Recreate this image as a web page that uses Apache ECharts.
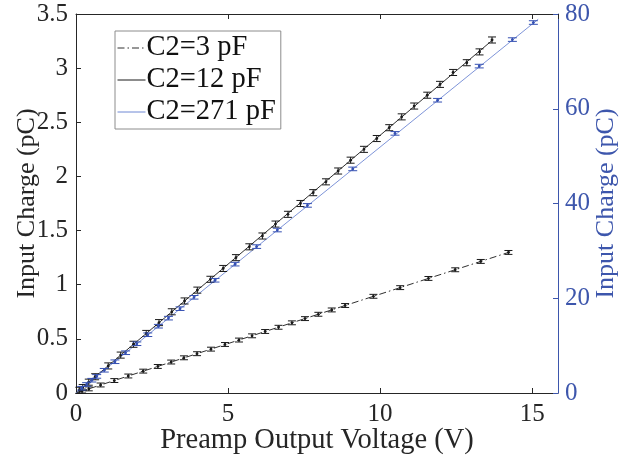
<!DOCTYPE html>
<html><head><meta charset="utf-8">
<script src="https://cdn.jsdelivr.net/npm/echarts@6/dist/echarts.min.js"></script>
<style>html,body{margin:0;padding:0;background:#fff}#c{width:623px;height:462px}</style>
</head><body><div id="c"></div>
<script>
// ---- data ----
const seriesNames = ['C2=3 pF', 'C2=12 pF', 'C2=271 pF'];

// C2 = 3 pF (left axis)
const v3 = [0.20,0.42,0.81,1.26,1.72,2.21,2.69,3.13,3.55,3.98,4.44,4.90,5.36,5.79,6.22,6.66,7.10,7.53,7.97,8.41,8.85,9.78,10.66,11.59,12.47,13.31,14.22];
const q3 = [0.018,0.038,0.074,0.115,0.157,0.202,0.245,0.286,0.325,0.363,0.405,0.448,0.489,0.528,0.568,0.607,0.648,0.687,0.727,0.767,0.808,0.893,0.973,1.058,1.138,1.215,1.298];
const err3 = 0.018;
const fit3V = [0, 14.35];
const fit3Q = [0, 1.31];

// C2 = 12 pF (left axis)
const v12 = [0.11,0.22,0.42,0.63,1.06,1.47,1.89,2.31,2.73,3.15,3.57,3.99,4.42,4.84,5.26,5.70,6.13,6.56,6.97,7.38,7.80,8.22,8.62,9.03,9.47,9.89,10.30,10.71,11.12,11.55,11.97,12.40,12.85,13.27,13.68];
const q12 = [0.025,0.05,0.10,0.15,0.25,0.35,0.45,0.55,0.65,0.75,0.85,0.95,1.05,1.15,1.25,1.35,1.45,1.56,1.65,1.75,1.85,1.95,2.05,2.15,2.25,2.35,2.45,2.55,2.65,2.75,2.85,2.96,3.05,3.15,3.26];
const err12 = 0.028;
const fit12V = [0, 13.72];
const fit12Q = [0, 3.265];

// C2 = 271 pF (right axis)
const v271 = [0.19,0.35,0.52,0.68,0.93,1.28,1.63,2.00,2.36,2.71,3.04,3.42,3.88,4.57,5.23,5.94,6.62,7.61,9.10,10.49,11.89,13.26,14.35,15.04];
const q271 = [1.0,1.8,2.7,3.5,4.8,6.6,8.5,10.4,12.3,14.1,15.8,17.8,20.2,23.8,27.2,30.9,34.4,39.6,47.3,54.8,61.8,69.0,74.6,78.2];
const err271 = 0.38;
const fit271V = [0, 15.2];
const fit271Q = [0, 78.9];

// ---- styling ----
const FONT = 'Liberation Serif';
const AX = '#262626';
const BLUE_AX = '#3d56ac';
const BLUE_LINE = '#6f88d4';
const BLUE_MK = '#3550b2';

function pairs(v, q) { return v.map((x, i) => [x, q[i]]); }
function triples(v, q, e) { return v.map((x, i) => [x, q[i], e]); }

function errRender(color, capW) {
  return function (params, api) {
    const x = api.value(0), y = api.value(1), e = api.value(2);
    const c = api.coord([x, y]);
    const lo = api.coord([x, y - e]);
    const hi = api.coord([x, y + e]);
    const st = { stroke: color, lineWidth: 1 };
    return {
      type: 'group',
      children: [
        { type: 'line', shape: { x1: c[0], y1: lo[1], x2: c[0], y2: hi[1] }, style: st },
        { type: 'line', shape: { x1: c[0] - capW, y1: lo[1], x2: c[0] + capW, y2: lo[1] }, style: st },
        { type: 'line', shape: { x1: c[0] - capW, y1: hi[1], x2: c[0] + capW, y2: hi[1] }, style: st },
        { type: 'circle', shape: { cx: c[0], cy: c[1], r: 1.4 }, style: { fill: color } }
      ]
    };
  };
}

const chart = echarts.init(document.getElementById('c'), null, { renderer: 'canvas' });
chart.setOption({
  animation: false,
  backgroundColor: '#fff',
  textStyle: { fontFamily: FONT },
  grid: { left: 76, right: 65, top: 14, bottom: 69, containLabel: false, outerBoundsMode: 'none' },
  legend: {
    data: seriesNames,
    orient: 'vertical',
    left: 115, top: 31,
    backgroundColor: '#fff',
    borderColor: '#8c8c8c', borderWidth: 1,
    padding: [2, 5, 2, 2],
    itemWidth: 28, itemHeight: 10, itemGap: 2,
    itemStyle: { opacity: 0 },
    lineStyle: { width: 1 },
    textStyle: { fontFamily: FONT, fontSize: 28.5, color: '#111', lineHeight: 30, padding: [0, 0, 0, -4] }
  },
  xAxis: [{
    type: 'value', min: 0, max: 15.85, interval: 5, position: 'bottom',
    name: 'Preamp Output Voltage (V)', nameLocation: 'middle', nameGap: 33, nameMoveOverlap: false,
    nameTextStyle: { fontFamily: FONT, fontSize: 28.5, color: AX },
    axisLine: { show: true, onZero: false, lineStyle: { color: AX, width: 1 } },
    axisTick: { show: true, inside: true, length: 5, lineStyle: { color: AX } },
    axisLabel: { fontFamily: FONT, fontSize: 25, color: AX, margin: 9 },
    splitLine: { show: false }
  }, {
    type: 'value', min: 0, max: 15.85, interval: 5, position: 'top',
    axisLine: { show: true, onZero: false, lineStyle: { color: AX, width: 1 } },
    axisTick: { show: true, inside: true, length: 5, lineStyle: { color: AX } },
    axisLabel: { show: false },
    splitLine: { show: false }
  }],
  yAxis: [{
    type: 'value', min: 0, max: 3.5, interval: 0.5, position: 'left',
    name: 'Input Charge (pC)', nameLocation: 'middle', nameGap: 36, nameRotate: 90, nameMoveOverlap: false,
    nameTextStyle: { fontFamily: FONT, fontSize: 26, color: AX },
    axisLine: { show: true, onZero: false, lineStyle: { color: AX, width: 1 } },
    axisTick: { show: true, inside: true, length: 5, lineStyle: { color: AX } },
    axisLabel: { fontFamily: FONT, fontSize: 25, color: AX, margin: 8 },
    splitLine: { show: false }
  }, {
    type: 'value', min: 0, max: 80, interval: 20, position: 'right',
    name: 'Input Charge (pC)', nameLocation: 'middle', nameGap: 35, nameRotate: 90, nameMoveOverlap: false,
    nameTextStyle: { fontFamily: FONT, fontSize: 26, color: BLUE_AX },
    axisLine: { show: true, onZero: false, lineStyle: { color: BLUE_AX, width: 1 } },
    axisTick: { show: true, inside: true, length: 5, lineStyle: { color: BLUE_AX } },
    axisLabel: { fontFamily: FONT, fontSize: 25, color: BLUE_AX, margin: 7 },
    splitLine: { show: false }
  }],
  series: [
    {
      name: seriesNames[0], type: 'line', xAxisIndex: 0, yAxisIndex: 0,
      data: pairs(fit3V, fit3Q), symbol: 'none', z: 2,
      lineStyle: { color: '#303030', width: 1, type: [7, 3, 1.5, 3] },
      itemStyle: { color: '#303030' }
    },
    {
      name: seriesNames[1], type: 'line', xAxisIndex: 0, yAxisIndex: 0,
      data: pairs(fit12V, fit12Q), symbol: 'none', z: 2,
      lineStyle: { color: '#1a1a1a', width: 0.9 },
      itemStyle: { color: '#1a1a1a' }
    },
    {
      name: seriesNames[2], type: 'line', xAxisIndex: 0, yAxisIndex: 1,
      data: pairs(fit271V, fit271Q), symbol: 'none', z: 2,
      lineStyle: { color: BLUE_LINE, width: 0.9 },
      itemStyle: { color: BLUE_LINE }
    },
    {
      name: 'err3', type: 'custom', xAxisIndex: 0, yAxisIndex: 0, z: 3,
      data: triples(v3, q3, err3), encode: { x: 0, y: 1 },
      renderItem: errRender('#1a1a1a', 4)
    },
    {
      name: 'err12', type: 'custom', xAxisIndex: 0, yAxisIndex: 0, z: 3,
      data: triples(v12, q12, err12), encode: { x: 0, y: 1 },
      renderItem: errRender('#1a1a1a', 4)
    },
    {
      name: 'err271', type: 'custom', xAxisIndex: 0, yAxisIndex: 1, z: 3,
      data: triples(v271, q271, err271), encode: { x: 0, y: 1 },
      renderItem: errRender(BLUE_MK, 4.5)
    }
  ]
});
</script>
</body></html>
